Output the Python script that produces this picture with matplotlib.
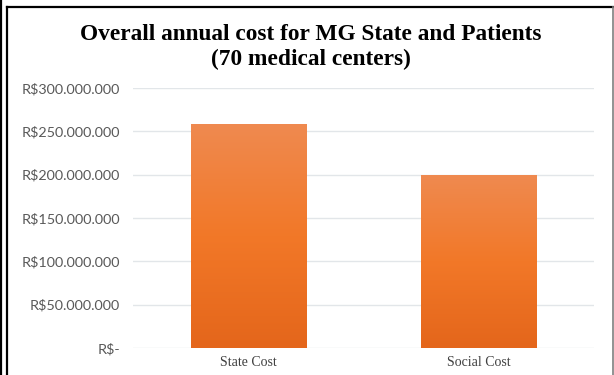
import numpy as np
import matplotlib.pyplot as plt
from matplotlib.colors import LinearSegmentedColormap
from matplotlib.lines import Line2D
from matplotlib.ticker import FuncFormatter

categories = ["State Cost", "Social Cost"]
costs = [259_000_000, 200_000_000]
y_ticks = [0, 50_000_000, 100_000_000, 150_000_000, 200_000_000, 250_000_000, 300_000_000]


def brl(v, pos=None):
    if v == 0:
        return "R$-"
    return "R$" + f"{int(v):,}".replace(",", ".")


fig = plt.figure(figsize=(6.14, 3.75), dpi=100)
ax = fig.add_axes([0.2166, 0.072, 0.7504, 0.6933])

grad = LinearSegmentedColormap.from_list("bar", ["#E4661B", "#F27828", "#EF8A50"])
gradient = np.linspace(0, 1, 256).reshape(-1, 1)

x = np.arange(len(categories))
bars = ax.bar(x, costs, width=0.5, color="none", zorder=2)
for b in bars:
    x0, w, h = b.get_x(), b.get_width(), b.get_height()
    im = ax.imshow(gradient, cmap=grad, origin="lower", aspect="auto",
                   extent=(x0, x0 + w, 0, h), zorder=2)
    im.set_clip_path(b)

ax.set_xlim(-0.5, 1.5)
ax.set_ylim(0, 300_000_000)
ax.set_yticks(y_ticks)
ax.yaxis.set_major_formatter(FuncFormatter(brl))
ax.set_xticks(x)
ax.set_xticklabels(categories, family="Liberation Serif", fontsize=10, color="#404040")
for lbl in ax.get_yticklabels():
    lbl.set_family("Lato")
    lbl.set_fontsize(10.4)
    lbl.set_color("#595959")

ax.grid(axis="y", color="#E2E6E9", linewidth=1, zorder=0)
ax.tick_params(axis="y", length=0, pad=9.5)
ax.tick_params(axis="x", length=0, pad=6)
for s in ax.spines.values():
    s.set_visible(False)

fig.text(0.506, 0.907, "Overall annual cost for MG State and Patients",
         ha="center", va="center", family="Liberation Serif", weight="bold",
         fontsize=16.8)
fig.text(0.506, 0.842, "(70 medical centers)",
         ha="center", va="center", family="Liberation Serif", weight="bold",
         fontsize=16.8)

# double frame on the left/top, thin grey edge on the right
W, H = 614, 375
frame = [
    ([1.5 / W, 1.5 / W], [0, 1], "black", 1.6),
    ([6.5 / W, 6.5 / W], [0, 1 - 7 / H], "black", 1.6),
    ([6.5 / W, 1], [1 - 7 / H, 1 - 7 / H], "black", 1.6),
    ([1 - 1.5 / W, 1 - 1.5 / W], [0, 1 - 7 / H], "#7F7F7F", 1.2),
]
for xs, ys, c, lw in frame:
    fig.add_artist(Line2D(xs, ys, transform=fig.transFigure, color=c, linewidth=lw))

fig.savefig("out.png", dpi=100)
